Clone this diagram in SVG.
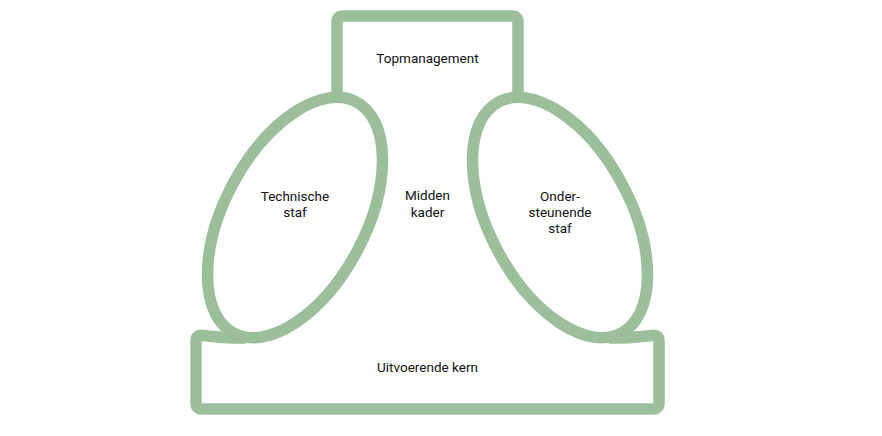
<svg xmlns="http://www.w3.org/2000/svg" width="882" height="436" viewBox="0 0 882 436">
<style>
.shape{fill:none;stroke:#9bbf9b;stroke-width:11.5;stroke-linejoin:round;stroke-linecap:butt}
.lbl{font-family:Roboto,"Liberation Sans",sans-serif;font-size:13.5px;fill:#111111;text-anchor:middle}
</style>
<rect width="882" height="436" fill="#ffffff"/>
<g id="topmanagement">
<path class="shape" d="M337 98 L337 22 Q337 16 343 16 L512 16 Q518 16 518 22 L518 98"/>
<text class="lbl" x="427.5" y="63">Topmanagement</text>
</g>
<g id="uitvoerende-kern">
<path class="shape" d="M246 338 Q222 338 203 335.5 Q196 334.5 196 341 L196 403 Q196 409 202 409 L653 409 Q659 409 659 403 L659 341 Q659 334.5 652 335.5 Q633 338 609 338"/>
<text class="lbl" x="427.5" y="372">Uitvoerende kern</text>
</g>
<g id="technische-staf">
<ellipse class="shape" cx="295" cy="217.5" rx="70.6" ry="130.8" transform="rotate(28 295 217.5)"/>
<text class="lbl" x="295" y="201">Technische</text>
<text class="lbl" x="295" y="217">staf</text>
</g>
<g id="ondersteunende-staf">
<ellipse class="shape" cx="560" cy="217.5" rx="70.6" ry="130.8" transform="rotate(-28 560 217.5)"/>
<text class="lbl" x="560" y="201">Onder-</text>
<text class="lbl" x="560" y="217">steunende</text>
<text class="lbl" x="560" y="233">staf</text>
</g>
<g id="midden-kader">
<text class="lbl" x="427.5" y="200">Midden</text>
<text class="lbl" x="427.5" y="217">kader</text>
</g>
<g id="connectors"></g>
</svg>
